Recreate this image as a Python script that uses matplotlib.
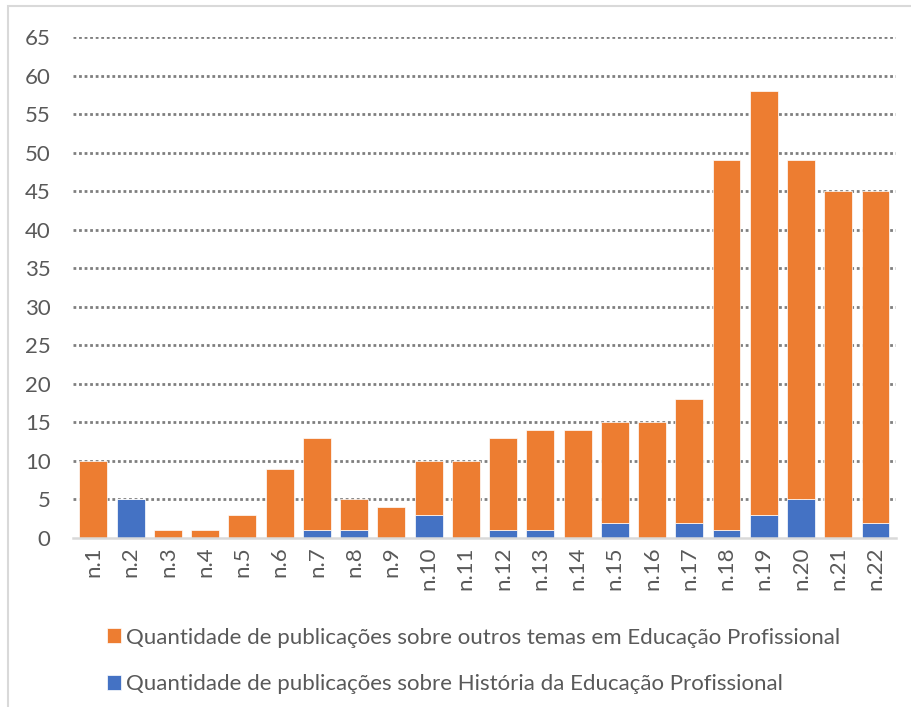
import matplotlib
matplotlib.use('Agg')
import matplotlib.pyplot as plt
from matplotlib.patches import Rectangle

categories = ['n.%d' % i for i in range(1, 23)]
# publicações sobre História da Educação Profissional
historia = [0, 5, 0, 0, 0, 0, 1, 1, 0, 3, 0, 1, 1, 0, 2, 0, 2, 1, 3, 5, 0, 2]
# total de publicações em cada número
total = [10, 5, 1, 1, 3, 9, 13, 5, 4, 10, 10, 13, 14, 14, 15, 15, 18, 49, 58, 49, 45, 45]
outros = [t - h for t, h in zip(total, historia)]

lbl_outros = 'Quantidade de publicações sobre outros temas em Educação Profissional'
lbl_hist = 'Quantidade de publicações sobre História da Educação Profissional'

plt.rcParams['font.family'] = ['Lato', 'DejaVu Sans']
txt = '#595959'
orange = '#ED7D31'
blue = '#4472C4'

fig = plt.figure(figsize=(9.12, 7.07), dpi=100)
ax = fig.add_axes([0.080, 0.239, 0.9024, 0.7086])

x = range(len(categories))
b1 = ax.bar(x, historia, width=0.75, color=blue, edgecolor='white', linewidth=0.5, zorder=3)
b2 = ax.bar(x, outros, bottom=historia, width=0.75, color=orange, edgecolor='white',
            linewidth=0.5, zorder=3)

ax.set_xlim(-0.55, len(categories) - 0.45)
ax.set_ylim(0, 65)
ax.set_yticks(range(0, 66, 5))
ax.set_xticks(list(x))
ax.set_xticklabels(categories, rotation=90)
ax.tick_params(axis='both', length=0, labelsize=16, colors=txt)
ax.tick_params(axis='y', pad=16)
ax.tick_params(axis='x', pad=6)

for v in range(5, 66, 5):
    ax.axhline(v, color='#7f7f7f', lw=2.0, linestyle=(0, (1, 1)), zorder=1)
for s in ['top', 'right', 'left']:
    ax.spines[s].set_visible(False)
ax.spines['bottom'].set_color('#d9d9d9')
ax.spines['bottom'].set_linewidth(1.8)
ax.spines['bottom'].set_zorder(4)

fig.legend([b2, b1], [lbl_outros, lbl_hist], loc='upper left',
           bbox_to_anchor=(0.105, 0.128), frameon=False, fontsize=16,
           labelcolor=txt, handlelength=0.65, handleheight=0.65,
           handletextpad=0.2, labelspacing=1.2, borderpad=0)

# moldura da área do gráfico
fig.add_artist(Rectangle((8 / 912, -0.1), 1.2, 1.1 - 6 / 707, transform=fig.transFigure,
                         fill=False, edgecolor='#d9d9d9', lw=1.5))

fig.savefig('out.png', dpi=100)
